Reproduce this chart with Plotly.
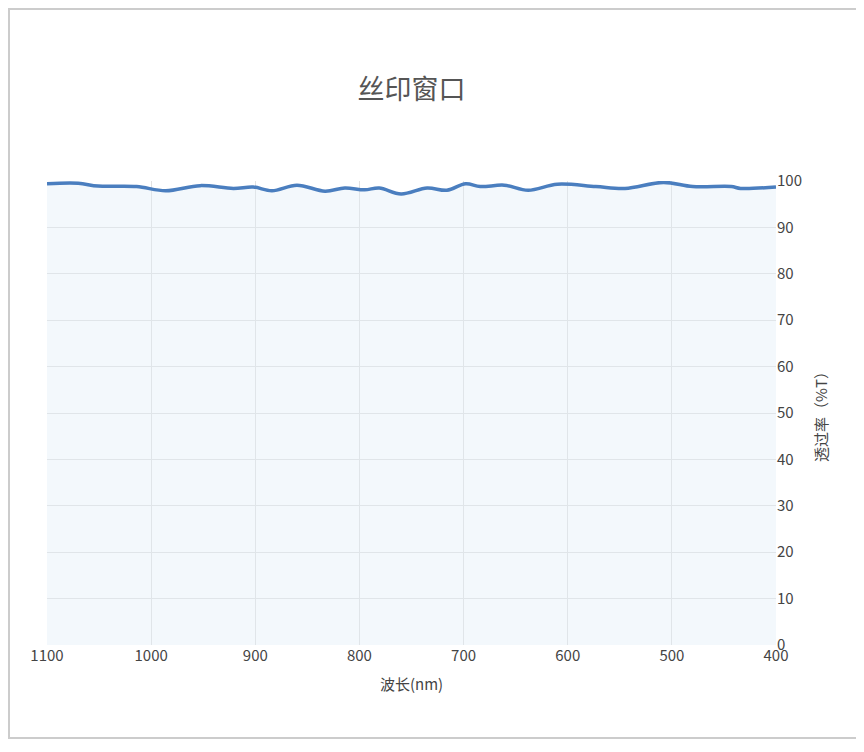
import plotly.graph_objects as go

wavelength = [1100,1070,1051,1014,986,953,921,902,884,860,833,814,795,781,760,735,716,698,684,661,638,610,573,545,508,480,443,434,400]
transmittance = [99.4,99.5,98.9,98.8,97.9,99.0,98.4,98.7,97.9,99.1,97.8,98.5,98.1,98.5,97.2,98.5,98.0,99.4,98.8,99.1,98.0,99.3,98.8,98.4,99.7,98.8,98.8,98.4,98.7]

L, T, PW, PH = 39, 173, 729, 464
fig = go.Figure(go.Scatter(x=wavelength, y=transmittance, mode="lines", line=dict(color="#4a7ebf", width=3.5, shape="spline"),
                           fill="tozeroy", fillcolor="rgba(220,235,245,0.35)"))
fig.update_layout(
    width=864, height=752, paper_bgcolor="white", plot_bgcolor="white",
    title=dict(text="丝印窗口", x=(L + PW/2)/864, xanchor="center", y=1 - 82/752, yanchor="middle",
               font=dict(size=27, color="#555", family="Noto Sans CJK SC")),
    margin=dict(l=L, r=864-L-PW, t=T, b=752-T-PH),
    font=dict(family="Noto Sans CJK SC, DejaVu Sans", color="#444", size=15),
    showlegend=False,
    xaxis=dict(range=[1100, 400], tickvals=[1100,1000,900,800,700,600,500,400], title=dict(text="波长(nm)", font=dict(size=15)),
               showgrid=True, gridcolor="#e2e2e2", zeroline=False, showline=False),
    yaxis=dict(range=[0, 100], dtick=10, side="right", title=dict(text="透过率（%T）", font=dict(size=15)),
               showgrid=True, gridcolor="#e2e2e2", zeroline=False),
    shapes=[dict(type="rect", xref="paper", yref="paper", x0=-(L-1)/PW, x1=(855-L)/PW, y0=1-(730-T)/PH, y1=1+(T-1)/PH,
                 line=dict(color="#cccccc", width=2))],
)
fig.write_html("out.html")
